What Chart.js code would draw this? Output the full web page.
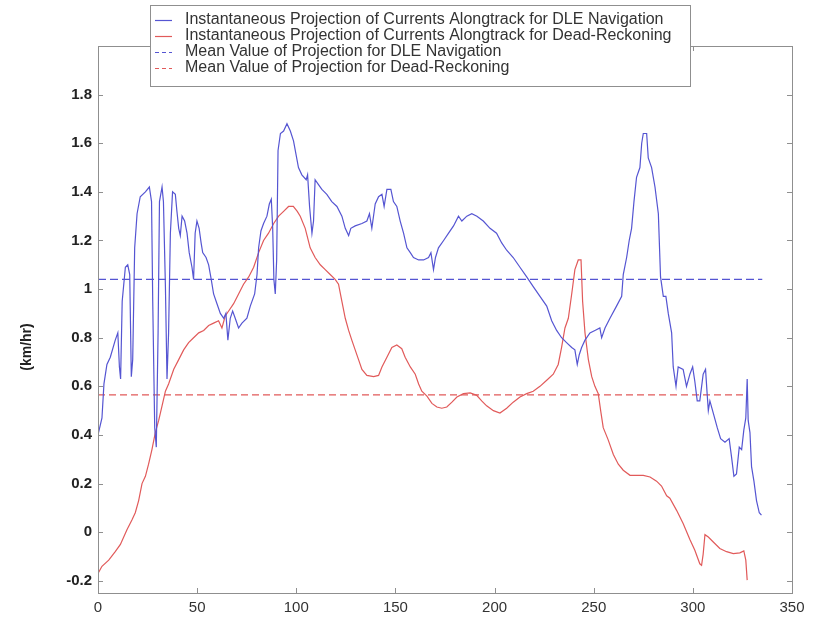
<!DOCTYPE html>
<html>
<head>
<meta charset="utf-8">
<script src="https://cdn.jsdelivr.net/npm/chart.js@4.4.1/dist/chart.umd.min.js"></script>
<style>
html,body{margin:0;padding:0;background:#fff;}
#wrap{width:816px;height:619px;position:relative;}
</style>
</head>
<body>
<div id="wrap"><canvas id="c" width="816" height="619"></canvas></div>
<script>
// ---- data ----
const dleX = [0,2,3,4.5,6.2,8.7,10,10.8,11.4,12.2,13.8,15,16,16.8,17.5,18.5,19.7,21.3,23.9,25.9,27,27.6,28.6,29.4,30.3,31,32.3,33,34,34.8,35.6,36.5,37.6,39,39.8,40.7,41.5,42.4,43.7,44.9,46,47.4,48.2,49,49.9,51,52,52.8,54.5,55.8,57.1,58.3,60,61.7,63.4,64.5,65.5,66.7,67.9,69.2,70.9,72.6,75.1,76.8,79,80.2,81,82.2,83.5,85.2,86.4,87.4,88.1,88.7,89.4,90.1,90.8,92,93.6,95.3,97,98.6,101.1,102.8,105,105.7,106.7,107.9,108.7,109.5,111.2,112.9,115.4,117.9,120.5,123,124.7,126.4,127.5,129.7,133.1,135.6,136.9,138.1,139.8,141.5,143.2,144.3,145.7,147.7,149,150.7,152.4,154.1,155.8,157.5,159.1,161.7,164.2,166.7,167.9,169.2,170.2,171.7,174.3,176.8,179.3,181.8,183.5,186,188.5,191.1,194.3,197.7,201,203.6,206.1,209.4,212.8,216.2,219.5,222.9,226.3,228.8,231.3,233.8,236.3,238.9,240.5,241.7,242.7,243.9,245.6,248.1,250.6,253.1,254,255.7,258.2,261.5,264.1,264.9,266.6,267.9,269.1,270.3,271.6,273.3,274.2,275,276.7,277.5,279.2,280.9,282.6,283.7,285.1,286.4,287.6,289.3,290.1,291.5,292.6,295.1,296.8,298.5,299.9,301,302.2,303.5,305.2,306.4,307.2,307.8,308.6,310.3,312.3,314,316.2,318.3,319.5,320.7,322,323.4,324.6,325.7,326.7,327.4,327.9,328.8,329.6,330.8,332.1,333.5,334.6];
const dleY = [0.40,0.47,0.61,0.69,0.72,0.79,0.82,0.68,0.63,0.95,1.09,1.10,1.06,0.64,0.71,1.17,1.31,1.38,1.40,1.42,1.36,0.95,0.43,0.35,0.82,1.36,1.42,1.36,1.01,0.63,0.82,1.23,1.40,1.39,1.32,1.25,1.22,1.30,1.28,1.23,1.15,1.09,1.04,1.23,1.28,1.25,1.19,1.15,1.13,1.10,1.04,0.98,0.94,0.90,0.88,0.90,0.79,0.88,0.91,0.88,0.84,0.86,0.88,0.93,0.98,1.06,1.17,1.24,1.27,1.30,1.35,1.37,1.25,1.04,0.98,1.12,1.57,1.64,1.65,1.68,1.65,1.61,1.50,1.47,1.45,1.47,1.34,1.23,1.28,1.45,1.43,1.41,1.39,1.36,1.34,1.30,1.25,1.22,1.25,1.26,1.27,1.28,1.31,1.25,1.35,1.38,1.39,1.34,1.41,1.41,1.36,1.34,1.28,1.23,1.17,1.15,1.13,1.12,1.12,1.13,1.15,1.08,1.13,1.17,1.20,1.23,1.26,1.30,1.28,1.30,1.31,1.30,1.28,1.25,1.23,1.19,1.16,1.13,1.09,1.05,1.01,0.97,0.93,0.87,0.83,0.80,0.78,0.76,0.75,0.69,0.73,0.76,0.79,0.82,0.83,0.84,0.80,0.84,0.88,0.93,0.97,1.06,1.13,1.20,1.25,1.36,1.46,1.50,1.60,1.64,1.64,1.54,1.50,1.42,1.31,1.05,0.97,0.97,0.90,0.82,0.68,0.60,0.68,0.67,0.60,0.65,0.68,0.62,0.54,0.54,0.65,0.67,0.57,0.50,0.54,0.49,0.43,0.385,0.37,0.385,0.31,0.23,0.24,0.35,0.34,0.42,0.47,0.63,0.46,0.41,0.27,0.21,0.13,0.08,0.07];
const drX = [0,2,5.4,8.7,11.3,14.6,17.1,18.8,20.5,22.2,23.9,25.5,27.2,28.9,30.6,32.3,34,35.6,38.2,40.7,43.2,45.7,48.2,50.8,53.3,55.8,58.3,60.8,62.5,64.2,65.9,68.4,70.9,73.4,76,78.5,81,83.5,86,88.6,91.1,93.6,96.1,98.5,100.5,102,104.5,107,109.5,112.1,114.6,117.1,119.6,121.3,123,124.7,126.4,128,129.7,131.4,133.1,135.6,139,141.5,143.2,145.7,148.2,150.7,153.2,154.9,157.5,160,161.7,163.3,165.9,168.4,170.9,173.4,175.9,178.5,181,184.3,187.7,191,193.5,196,199.4,202.7,206.1,209.4,212.8,216.2,219.5,222.9,226.3,229.6,232.1,233.8,235.5,237.2,238.9,240.5,242.2,243.6,244.4,245.6,247.3,249,250.6,252.3,253.5,254.8,257.3,259.9,262.4,264.9,268.3,271.6,275,278.4,281.7,284.2,286.8,288.4,291.8,295.1,298.5,301,303.5,304.4,305.2,306.1,307.8,310.3,313.6,317,320.4,323.7,325.7,326.7,327.4];
const drY = [-0.17,-0.14,-0.115,-0.08,-0.05,0.01,0.05,0.08,0.13,0.20,0.23,0.28,0.34,0.41,0.46,0.52,0.58,0.61,0.67,0.71,0.75,0.78,0.80,0.82,0.83,0.85,0.86,0.87,0.84,0.89,0.91,0.94,0.98,1.02,1.05,1.09,1.15,1.20,1.23,1.27,1.30,1.32,1.34,1.34,1.32,1.30,1.25,1.17,1.13,1.10,1.08,1.06,1.04,1.02,0.95,0.88,0.83,0.79,0.75,0.71,0.67,0.645,0.64,0.645,0.68,0.72,0.76,0.77,0.755,0.72,0.68,0.65,0.61,0.58,0.56,0.53,0.515,0.51,0.515,0.535,0.556,0.57,0.573,0.563,0.54,0.52,0.50,0.49,0.51,0.535,0.556,0.57,0.58,0.60,0.625,0.65,0.69,0.76,0.84,0.88,0.98,1.08,1.12,1.12,0.95,0.82,0.71,0.64,0.60,0.57,0.50,0.43,0.38,0.32,0.28,0.255,0.234,0.234,0.234,0.227,0.21,0.19,0.15,0.14,0.09,0.036,-0.03,-0.074,-0.13,-0.136,-0.09,-0.01,-0.02,-0.04,-0.067,-0.08,-0.088,-0.085,-0.077,-0.115,-0.197];
const dleMeanX = [0, 335];
const dleMeanY = [1.04, 1.04];
const drMeanX = [0, 327];
const drMeanY = [0.565, 0.565];
const seriesLabels = [
  "Instantaneous Projection of Currents Alongtrack for DLE Navigation",
  "Instantaneous Projection of Currents Alongtrack for Dead-Reckoning",
  "Mean Value of Projection for DLE Navigation",
  "Mean Value of Projection for Dead-Reckoning"
];
const xTickValues = [0,50,100,150,200,250,300,350];
const yTickValues = [-0.2,0,0.2,0.4,0.6,0.8,1,1.2,1.4,1.6,1.8];
const yAxisTitle = "(km/hr)";

// ---- styling ----
const BLUE = "rgb(85,85,210)";
const RED = "rgb(225,90,90)";
const AXIS = "#8f8f8f";
const FONT = "'Liberation Sans', Arial, sans-serif";
const pts = (xs, ys) => xs.map((x, i) => ({x: x, y: ys[i]}));

const boxPlugin = {
  id: "matlabBox",
  afterDraw(chart) {
    const ctx = chart.ctx, a = chart.chartArea;
    const xs = chart.scales.x, ys = chart.scales.y;
    ctx.save();
    ctx.strokeStyle = AXIS;
    ctx.lineWidth = 1;
    ctx.strokeRect(Math.round(a.left) + 0.5, Math.round(a.top) + 0.5,
                   Math.round(a.right - a.left), Math.round(a.bottom - a.top));
    ctx.beginPath();
    const tl = 5;
    xTickValues.forEach(v => {
      const px = Math.round(xs.getPixelForValue(v)) + 0.5;
      ctx.moveTo(px, a.bottom); ctx.lineTo(px, a.bottom - tl);
      ctx.moveTo(px, a.top); ctx.lineTo(px, a.top + tl);
    });
    yTickValues.forEach(v => {
      const py = Math.round(ys.getPixelForValue(v)) + 0.5;
      ctx.moveTo(a.left, py); ctx.lineTo(a.left + tl, py);
      ctx.moveTo(a.right, py); ctx.lineTo(a.right - tl, py);
    });
    ctx.stroke();

    // y-axis title
    ctx.fillStyle = "#222";
    ctx.font = "bold 14px " + FONT;
    ctx.textAlign = "center";
    ctx.textBaseline = "middle";
    ctx.translate(27, 347);
    ctx.rotate(-Math.PI / 2);
    ctx.fillText(yAxisTitle, 0, 0);
    ctx.restore();

    // legend
    ctx.save();
    const lx = 150, ly = 5, lw = 540, lh = 81;
    ctx.fillStyle = "#fff";
    ctx.fillRect(lx, ly, lw, lh);
    ctx.strokeStyle = AXIS;
    ctx.lineWidth = 1;
    ctx.strokeRect(lx + 0.5, ly + 0.5, lw, lh);
    ctx.font = "16px " + FONT;
    ctx.textAlign = "left";
    ctx.textBaseline = "middle";
    chart.data.datasets.forEach((ds, i) => {
      const y = ly + 15 + i * 16;
      ctx.strokeStyle = ds.borderColor;
      ctx.lineWidth = 1.2;
      ctx.setLineDash(ds.borderDash ? [4, 3] : []);
      ctx.beginPath();
      ctx.moveTo(lx + 5, y + 0.5); ctx.lineTo(lx + 22, y + 0.5);
      ctx.stroke();
      ctx.setLineDash([]);
      ctx.fillStyle = "#333";
      ctx.fillText(ds.label, lx + 35, y);
    });
    ctx.restore();
  }
};

new Chart(document.getElementById("c"), {
  type: "line",
  data: {
    datasets: [
      {label: seriesLabels[0], data: pts(dleX, dleY), borderColor: BLUE, borderWidth: 1.2},
      {label: seriesLabels[1], data: pts(drX, drY), borderColor: RED, borderWidth: 1.2},
      {label: seriesLabels[2], data: pts(dleMeanX, dleMeanY), borderColor: BLUE, borderWidth: 1.4, borderDash: [8, 4]},
      {label: seriesLabels[3], data: pts(drMeanX, drMeanY), borderColor: RED, borderWidth: 1.2, borderDash: [7, 4]}
    ]
  },
  options: {
    responsive: false,
    animation: false,
    devicePixelRatio: 1,
    elements: {point: {radius: 0}, line: {tension: 0, fill: false}},
    layout: {padding: {top: 46, right: 24, left: 0, bottom: 0}},
    plugins: {legend: {display: false}, tooltip: {enabled: false}},
    scales: {
      x: {
        type: "linear", min: 0, max: 350,
        grid: {display: false, drawTicks: false}, border: {display: false},
        afterBuildTicks: s => { s.ticks = xTickValues.map(v => ({value: v})); },
        afterFit: s => { s.height = 26; },
        ticks: {color: "#333", padding: 6, maxRotation: 0,
                font: {family: FONT, size: 15}}
      },
      y: {
        type: "linear", min: -0.25, max: 2.0,
        grid: {display: false, drawTicks: false}, border: {display: false},
        afterBuildTicks: s => { s.ticks = yTickValues.map(v => ({value: v})); },
        afterFit: s => { s.width = 98; },
        ticks: {color: "#222", padding: 6,
                callback: v => String(Math.round(v * 10) / 10),
                font: {family: FONT, size: 15, weight: "bold"}}
      }
    }
  },
  plugins: [boxPlugin]
});
</script>
</body>
</html>
